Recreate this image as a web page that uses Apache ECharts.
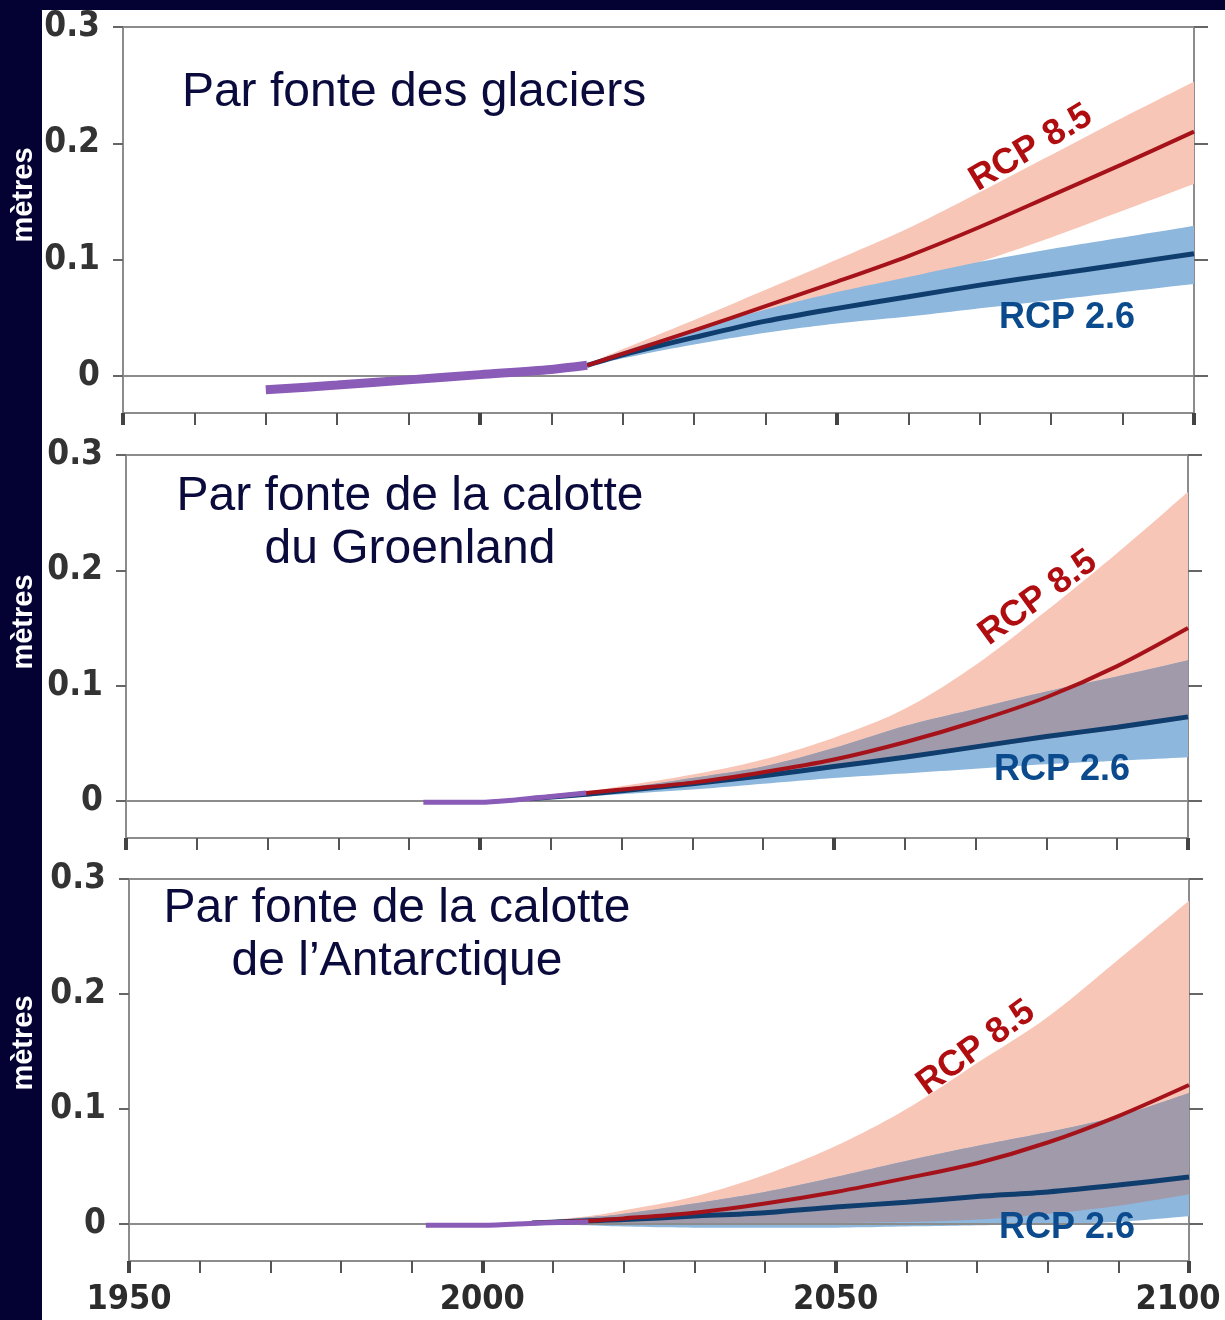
<!DOCTYPE html>
<html>
<head>
<meta charset="utf-8">
<script src="https://cdn.jsdelivr.net/npm/echarts@6.0.0/dist/echarts.min.js"></script>
<style>
html,body{margin:0;padding:0;background:#fff;}
#chart{width:1225px;height:1320px;}
</style>
</head>
<body>
<div id="chart"></div>
<script>
// ---------- data (metres of sea level rise) ----------
const yTicks = [0, 0.1, 0.2, 0.3];
const xTickLabels = [1950, 2000, 2050, 2100];

// Glaciers
const glacHistYears = [1970, 1980, 1990, 2000, 2010, 2015];
const glacHist      = [-0.012, -0.008, -0.0035, 0.001, 0.0055, 0.009];
const glacYears  = [2015, 2020, 2030, 2040, 2050, 2060, 2070, 2080, 2090, 2100];
const glac85     = [0.009, 0.019, 0.039, 0.060, 0.081, 0.103, 0.128, 0.155, 0.182, 0.210];
const glac85Low  = [0.008, 0.016, 0.031, 0.047, 0.063, 0.079, 0.098, 0.119, 0.142, 0.165];
const glac85High = [0.010, 0.023, 0.048, 0.074, 0.100, 0.127, 0.158, 0.190, 0.222, 0.253];
const glac26     = [0.009, 0.018, 0.033, 0.047, 0.058, 0.068, 0.078, 0.087, 0.096, 0.105];
const glac26Low  = [0.008, 0.015, 0.027, 0.037, 0.045, 0.051, 0.058, 0.065, 0.072, 0.079];
const glac26High = [0.010, 0.021, 0.040, 0.057, 0.072, 0.085, 0.098, 0.109, 0.119, 0.129];

// Greenland
const greHistYears = [1992, 2000, 2005, 2010, 2015];
const greHist      = [-0.001, -0.001, 0.001, 0.004, 0.007];
const greYears  = [2007, 2015, 2020, 2030, 2040, 2050, 2060, 2070, 2080, 2090, 2100];
const gre85     = [0.002, 0.007, 0.010, 0.016, 0.025, 0.036, 0.051, 0.069, 0.090, 0.117, 0.150];
const gre85Low  = [0.002, 0.006, 0.009, 0.014, 0.021, 0.029, 0.037, 0.045, 0.054, 0.062, 0.071];
const gre85High = [0.003, 0.008, 0.013, 0.023, 0.036, 0.055, 0.080, 0.118, 0.165, 0.215, 0.268];
const gre26     = [0.002, 0.006, 0.009, 0.015, 0.022, 0.030, 0.038, 0.047, 0.056, 0.064, 0.073];
const gre26Low  = [0.001, 0.004, 0.006, 0.010, 0.015, 0.020, 0.024, 0.028, 0.032, 0.035, 0.038];
const gre26High = [0.003, 0.007, 0.011, 0.020, 0.030, 0.046, 0.065, 0.080, 0.095, 0.108, 0.122];

// Antarctic
const antHistYears = [1992, 2000, 2008, 2015];
const antHist      = [-0.001, -0.001, 0.001, 0.002];
const antYears  = [2007, 2015, 2020, 2030, 2040, 2050, 2060, 2070, 2080, 2090, 2100];
const ant85     = [0.001, 0.003, 0.005, 0.010, 0.018, 0.028, 0.040, 0.053, 0.071, 0.094, 0.121];
const ant85Low  = [0.000, 0.000, 0.000, 0.000, 0.000, 0.001, 0.002, 0.004, 0.009, 0.016, 0.026];
const ant85High = [0.002, 0.007, 0.012, 0.024, 0.043, 0.068, 0.100, 0.140, 0.180, 0.230, 0.281];
const ant26     = [0.001, 0.003, 0.004, 0.007, 0.010, 0.015, 0.019, 0.024, 0.028, 0.034, 0.041];
const ant26Low  = [0.000, -0.001, -0.002, -0.003, -0.003, -0.003, -0.002, -0.001, 0.000, 0.002, 0.007];
const ant26High = [0.002, 0.006, 0.009, 0.018, 0.028, 0.041, 0.055, 0.068, 0.080, 0.094, 0.114];

const titles = ['Par fonte des glaciers', 'Par fonte de la calotte\ndu Groenland', 'Par fonte de la calotte\nde l\u2019Antarctique'];
const yName = 'mètres';
const label85 = 'RCP 8.5';
const label26 = 'RCP 2.6';

// ---------- styling ----------
const NAVY = '#030233';
const PINK = '#f8c6b6';
const BLUEBAND = '#8db7dc';
const GREY = '#a09aaa';
const RED = '#a5121a';
const DBLUE = '#0f3d6e';
const PURPLE = '#8a5cb7';
const AXIS = '#8c8c8c';
const TXT = '#0a0a3c';
const LABEL_FONT = '"DejaVu Sans Condensed", "DejaVu Sans", sans-serif';

const grids = [
  {left: 123, right: 31, top: 27, height: 386},
  {left: 126, right: 37, top: 455, height: 383},
  {left: 129, right: 36, top: 879, height: 382}
];

const panels = [
  {hy: glacHistYears, h: glacHist, yrs: glacYears, r: glac85, rl: glac85Low, rh: glac85High, b: glac26, bl: glac26Low, bh: glac26High, overlap: false, pw: 9},
  {hy: greHistYears, h: greHist, yrs: greYears, r: gre85, rl: gre85Low, rh: gre85High, b: gre26, bl: gre26Low, bh: gre26High, overlap: true, pw: 5},
  {hy: antHistYears, h: antHist, yrs: antYears, r: ant85, rl: ant85Low, rh: ant85High, b: ant26, bl: ant26Low, bh: ant26High, overlap: true, pw: 5}
];

const pairs = (xs, ys) => xs.map((x, i) => [x, ys[i]]);

// smooth a pixel polyline (rendering only, Catmull-Rom)
function smoothPx(pts) {
  const out = [];
  const n = pts.length;
  for (let i = 0; i < n - 1; i++) {
    const p0 = pts[Math.max(0, i - 1)], p1 = pts[i], p2 = pts[i + 1], p3 = pts[Math.min(n - 1, i + 2)];
    for (let k = 0; k < 10; k++) {
      const t = k / 10, t2 = t * t, t3 = t2 * t;
      out.push([
        0.5 * ((2 * p1[0]) + (-p0[0] + p2[0]) * t + (2 * p0[0] - 5 * p1[0] + 4 * p2[0] - p3[0]) * t2 + (-p0[0] + 3 * p1[0] - 3 * p2[0] + p3[0]) * t3),
        0.5 * ((2 * p1[1]) + (-p0[1] + p2[1]) * t + (2 * p0[1] - 5 * p1[1] + 4 * p2[1] - p3[1]) * t2 + (-p0[1] + 3 * p1[1] - 3 * p2[1] + p3[1]) * t3)
      ]);
    }
  }
  out.push(pts[n - 1]);
  return out;
}

function band(p, years, low, high, color, z) {
  return {
    type: 'custom', coordinateSystem: 'cartesian2d', xAxisIndex: p, yAxisIndex: 2 * p,
    silent: true, z: z, animation: false, clip: true,
    data: [[years[0], low[0]]],
    renderItem: function (params, api) {
      const up = smoothPx(years.map((y, i) => api.coord([y, high[i]])));
      const lo = smoothPx(years.map((y, i) => api.coord([y, low[i]])));
      return {
        type: 'polygon',
        shape: {points: up.concat(lo.reverse())},
        style: {fill: color, stroke: null}
      };
    }
  };
}

const series = [];
const xAxes = [];
const yAxes = [];

panels.forEach((P, p) => {
  series.push({
    type: 'line', xAxisIndex: p, yAxisIndex: 2 * p, data: [], silent: true, z: 1, animation: false,
    markLine: {
      silent: true, symbol: 'none', label: {show: false}, animation: false,
      lineStyle: {color: AXIS, width: 2, type: 'solid'},
      data: [{yAxis: 0}]
    }
  });
  series.push(band(p, P.yrs, P.rl, P.rh, PINK, 2));
  series.push(band(p, P.yrs, P.bl, P.bh, BLUEBAND, 3));
  if (P.overlap) {
    const oLow = P.yrs.map((_, i) => Math.max(P.rl[i], P.bl[i]));
    const oHigh = P.yrs.map((_, i) => Math.max(oLow[i], Math.min(P.rh[i], P.bh[i])));
    series.push(band(p, P.yrs, oLow, oHigh, GREY, 4));
  }
  series.push({type: 'line', xAxisIndex: p, yAxisIndex: 2 * p, data: pairs(P.yrs, P.b), symbol: 'none', smooth: 0.3, silent: true, z: 5, animation: false, lineStyle: {color: DBLUE, width: 5}});
  series.push({type: 'line', xAxisIndex: p, yAxisIndex: 2 * p, data: pairs(P.yrs, P.r), symbol: 'none', smooth: 0.3, silent: true, z: 6, animation: false, lineStyle: {color: RED, width: 4}});
  series.push({type: 'line', xAxisIndex: p, yAxisIndex: 2 * p, data: pairs(P.hy, P.h), symbol: 'none', smooth: 0.3, silent: true, z: 7, animation: false, lineStyle: {color: PURPLE, width: P.pw, cap: 'butt'}});

  xAxes.push({
    gridIndex: p, type: 'value', min: 1950, max: 2100, interval: 50,
    axisLine: {show: true, onZero: false, lineStyle: {color: AXIS, width: 2}},
    axisTick: {show: true, length: 12, lineStyle: {color: '#444', width: 4}},
    minorTick: {show: true, splitNumber: 5, length: 12, lineStyle: {color: '#555', width: 2}},
    splitLine: {show: false}, minorSplitLine: {show: false},
    axisLabel: {
      show: p === 2, margin: 22, color: '#2b2b2b', fontSize: 34, fontWeight: 'bold',
      fontFamily: LABEL_FONT,
      customValues: xTickLabels,
      formatter: v => (v === 2100 ? '{r|' + v + '}' : String(v)),
      rich: {r: {fontSize: 34, fontWeight: 'bold', fontFamily: LABEL_FONT, color: '#2b2b2b', padding: [0, 22, 0, 0]}}
    }
  });
  yAxes.push({
    gridIndex: p, type: 'value', min: -0.032, max: 0.3, position: 'left',
    axisLine: {show: true, onZero: false, lineStyle: {color: AXIS, width: 2}},
    axisTick: {show: true, length: 10, customValues: yTicks, lineStyle: {color: '#666', width: 2}},
    splitLine: {show: false},
    axisLabel: {
      customValues: yTicks, margin: 23, color: '#333', fontSize: 35, fontWeight: 'bold',
      fontFamily: LABEL_FONT,
      formatter: v => (Math.abs(v) < 1e-9 ? '0' : v.toFixed(1))
    }
  });
  yAxes.push({
    gridIndex: p, type: 'value', min: -0.032, max: 0.3, position: 'right',
    axisLine: {show: true, onZero: false, lineStyle: {color: AXIS, width: 2}},
    axisTick: {show: true, length: 14, customValues: yTicks, lineStyle: {color: '#666', width: 2}},
    splitLine: {show: false},
    axisLabel: {show: false}
  });
});

function txt(text, x, y, font, fill, align, rot, lh) {
  return {
    type: 'text', x: x, y: y, rotation: rot || 0, z: 100, silent: true,
    style: {
      text: text, font: font, fill: fill,
      align: align, textAlign: align, verticalAlign: 'middle', textVerticalAlign: 'middle',
      lineHeight: lh || undefined
    }
  };
}

const TITLE_FONT = '48px "Liberation Sans", Arial, sans-serif';
const RCP_FONT = 'bold 36px "Liberation Sans", Arial, sans-serif';
const Y_FONT = 'bold 29px "Liberation Sans", Arial, sans-serif';

const graphics = [
  {type: 'rect', shape: {x: 0, y: 0, width: 42, height: 1320}, style: {fill: NAVY}, z: 90, silent: true},
  {type: 'rect', shape: {x: 0, y: 0, width: 1225, height: 10}, style: {fill: NAVY}, z: 90, silent: true},
  txt(yName, 24, 195, Y_FONT, '#ffffff', 'center', Math.PI / 2),
  txt(yName, 24, 622, Y_FONT, '#ffffff', 'center', Math.PI / 2),
  txt(yName, 24, 1043, Y_FONT, '#ffffff', 'center', Math.PI / 2),
  txt(titles[0], 414, 93, TITLE_FONT, TXT, 'center'),
  txt(titles[1], 410, 523, TITLE_FONT, TXT, 'center', 0, 53),
  txt(titles[2], 397, 935, TITLE_FONT, TXT, 'center', 0, 53),
  txt(label85, 1031, 148, RCP_FONT, '#b00d10', 'center', 31 * Math.PI / 180),
  txt(label85, 1038, 598, RCP_FONT, '#b00d10', 'center', 36 * Math.PI / 180),
  txt(label85, 976, 1048, RCP_FONT, '#b00d10', 'center', 36 * Math.PI / 180),
  txt(label26, 1067, 318, RCP_FONT, '#0b4a8c', 'center'),
  txt(label26, 1062, 770, RCP_FONT, '#0b4a8c', 'center'),
  txt(label26, 1067, 1228, RCP_FONT, '#0b4a8c', 'center')
];

const chart = echarts.init(document.getElementById('chart'), null, {renderer: 'canvas'});
chart.setOption({
  animation: false,
  backgroundColor: '#ffffff',
  grid: grids.map(g => Object.assign({show: true, borderColor: AXIS, borderWidth: 2, backgroundColor: 'transparent', containLabel: false, outerBoundsMode: 'none'}, g)),
  xAxis: xAxes,
  yAxis: yAxes,
  series: series,
  graphic: graphics
});
</script>
</body>
</html>
